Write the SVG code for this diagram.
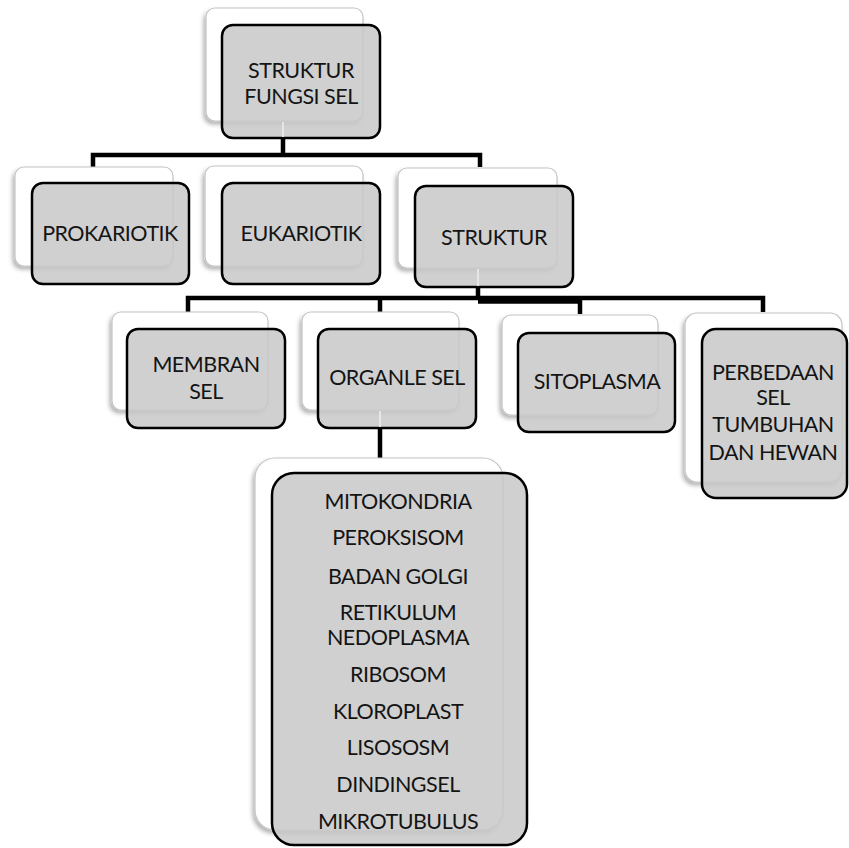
<svg xmlns="http://www.w3.org/2000/svg" width="849" height="848" viewBox="0 0 849 848">
  <defs>
    <filter id="shadow" x="-10%" y="-10%" width="120%" height="125%">
      <feDropShadow dx="-2" dy="3" stdDeviation="2" flood-color="#000" flood-opacity="0.3"/>
    </filter>
    <style>
      .back { fill: #ffffff; stroke: #c4c4c4; stroke-width: 1.2; filter: url(#shadow); }
      .front { fill: #c8c8c8; fill-opacity: 0.85; stroke: #000; stroke-width: 2.5; }
      .ghost { stroke: #e6e6e6; stroke-width: 2; fill: none; }
      .lbl { font-family: Lato, "Open Sans", sans-serif; font-size: 21.5px; letter-spacing: -0.5px; fill: #141414; text-anchor: middle; }
      .wire { fill: none; stroke: #000; stroke-width: 4.5; stroke-linejoin: miter; }
    </style>
  </defs>
  <rect width="849" height="848" fill="#fff"/>

  <!-- connectors -->
  <g id="connectors">
    <path class="wire" d="M283 138 V155 M93 167 V155 H480 V167"/>
    <path class="wire" d="M478 287 V298 M188 312 V298 H763 V312 M380 298 V312 M580 300 V314"/>
    <path class="wire" d="M478 301.5 H580"/>
    <path class="wire" d="M380 428 V458"/>
  </g>

  <!-- root -->
  <g id="node-root">
    <rect class="back" x="206" y="8" width="157" height="113" rx="9"/>
    <rect class="front" x="222" y="25" width="158" height="113" rx="11"/>
    <line class="ghost" x1="283" y1="122" x2="283" y2="137"/>
    <text class="lbl" x="301" y="78">STRUKTUR</text>
    <text class="lbl" x="301" y="104">FUNGSI SEL</text>
  </g>

  <!-- level 2 -->
  <g id="node-prokariotik">
    <rect class="back" x="15" y="167" width="158" height="99" rx="9"/>
    <rect class="front" x="32" y="183" width="157" height="101" rx="11"/>
    <text class="lbl" x="110" y="241">PROKARIOTIK</text>
  </g>
  <g id="node-eukariotik">
    <rect class="back" x="205" y="166" width="158" height="100" rx="9"/>
    <rect class="front" x="222" y="183" width="158" height="101" rx="11"/>
    <text class="lbl" x="301" y="241">EUKARIOTIK</text>
  </g>
  <g id="node-struktur">
    <rect class="back" x="398" y="168" width="159" height="100" rx="9"/>
    <rect class="front" x="415" y="186" width="158" height="101" rx="11"/>
    <line class="ghost" x1="478" y1="269" x2="478" y2="286"/>
    <text class="lbl" x="494" y="245">STRUKTUR</text>
  </g>

  <!-- level 3 -->
  <g id="node-membran">
    <rect class="back" x="112" y="312" width="156" height="98" rx="9"/>
    <rect class="front" x="127" y="329" width="158" height="99" rx="11"/>
    <text class="lbl" x="206" y="372">MEMBRAN</text>
    <text class="lbl" x="206" y="399">SEL</text>
  </g>
  <g id="node-organel">
    <rect class="back" x="302" y="312" width="157" height="98" rx="9"/>
    <rect class="front" x="318" y="329" width="158" height="99" rx="11"/>
    <line class="ghost" x1="380" y1="411" x2="380" y2="427"/>
    <text class="lbl" x="397" y="385">ORGANLE SEL</text>
  </g>
  <g id="node-sitoplasma">
    <rect class="back" x="502" y="315" width="156" height="100" rx="9"/>
    <rect class="front" x="518" y="333" width="157" height="99" rx="11"/>
    <text class="lbl" x="597" y="389">SITOPLASMA</text>
  </g>
  <g id="node-perbedaan">
    <rect class="back" x="685" y="313" width="157" height="169" rx="12"/>
    <rect class="front" x="702" y="329" width="145" height="169" rx="14"/>
    <text class="lbl" x="773" y="380">PERBEDAAN</text>
    <text class="lbl" x="773" y="405">SEL</text>
    <text class="lbl" x="773" y="432">TUMBUHAN</text>
    <text class="lbl" x="773" y="460">DAN HEWAN</text>
  </g>

  <!-- organelle list -->
  <g id="node-organel-list">
    <rect class="back" x="255" y="458" width="248" height="372" rx="20"/>
    <rect class="front" x="272" y="473" width="255" height="372" rx="22"/>
    <text class="lbl" x="398" y="509">MITOKONDRIA</text>
    <text class="lbl" x="398" y="545">PEROKSISOM</text>
    <text class="lbl" x="398" y="584">BADAN GOLGI</text>
    <text class="lbl" x="398" y="620">RETIKULUM</text>
    <text class="lbl" x="398" y="645">NEDOPLASMA</text>
    <text class="lbl" x="398" y="682">RIBOSOM</text>
    <text class="lbl" x="398" y="719">KLOROPLAST</text>
    <text class="lbl" x="398" y="755">LISOSOSM</text>
    <text class="lbl" x="398" y="792">DINDINGSEL</text>
    <text class="lbl" x="398" y="829">MIKROTUBULUS</text>
  </g>
</svg>
